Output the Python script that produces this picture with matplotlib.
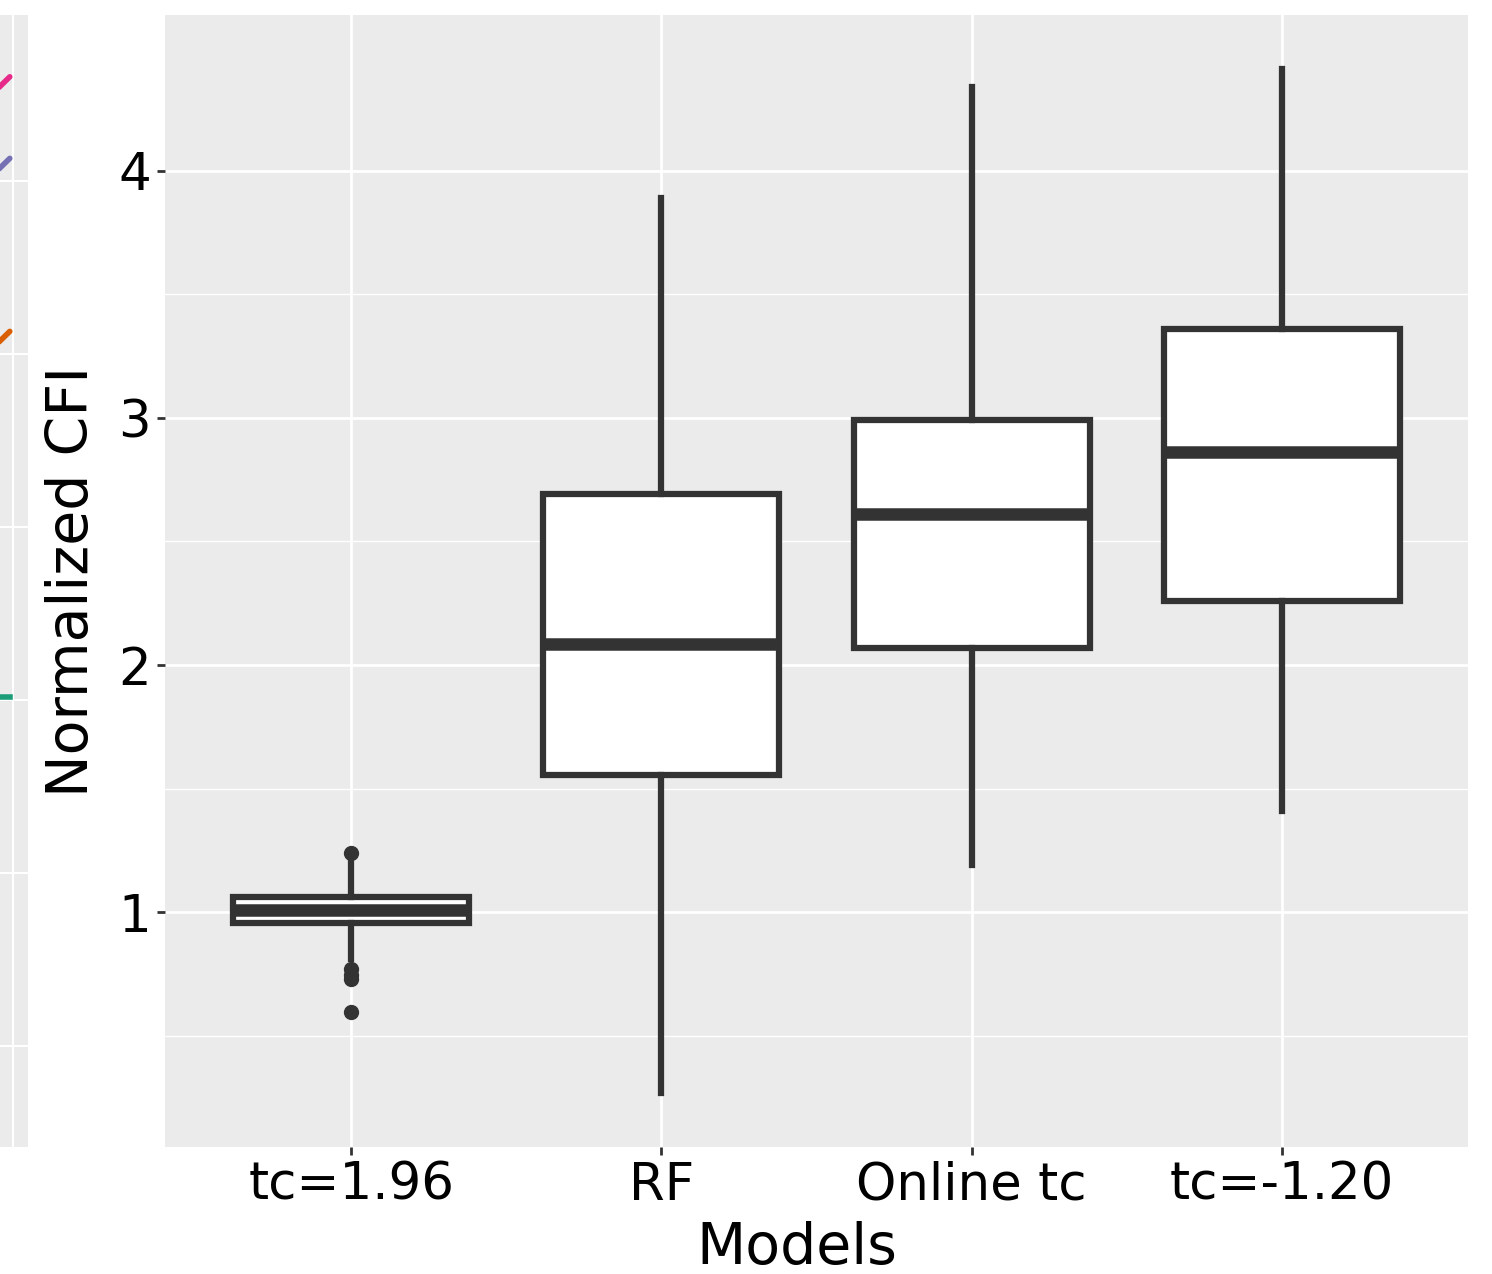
import matplotlib
matplotlib.use("Agg")
import matplotlib.pyplot as plt

# box statistics
models = ["tc=1.96", "RF", "Online tc", "tc=-1.20"]
whislo = [0.81, 0.27, 1.19, 1.41]
q1 = [0.955, 1.555, 2.07, 2.26]
med = [1.01, 2.085, 2.61, 2.86]
q3 = [1.06, 2.69, 2.99, 3.36]
whishi = [1.20, 3.89, 4.34, 4.41]
fliers = [[1.24, 0.77, 0.745, 0.73, 0.595], [], [], []]

# cropped neighbour panel on the far left (only line ends visible)
side_y = [4.38, 4.05, 3.35, 1.87]
side_colors = ["#e7298a", "#7570b3", "#d95f02", "#1b9e77"]

dark = "#333333"
panel = "#ebebeb"

fig = plt.figure(figsize=(14.92, 12.74), dpi=100)
ax = fig.add_axes([165/1492, 127/1274, 1303/1492, 1132/1274])
side = fig.add_axes([0, 127/1274, 28/1492, 1132/1274])
side.set_zorder(-1)

stats = []
for i, m in enumerate(models):
    stats.append(dict(label=m, whislo=whislo[i], q1=q1[i], med=med[i],
                      q3=q3[i], whishi=whishi[i], fliers=fliers[i]))

ax.bxp(stats, positions=range(1, 5), widths=0.76, patch_artist=True,
       showcaps=False,
       boxprops=dict(facecolor="white", edgecolor=dark, linewidth=4.5),
       medianprops=dict(color=dark, linewidth=9, solid_capstyle="butt"),
       whiskerprops=dict(color=dark, linewidth=4.5),
       flierprops=dict(marker="o", markerfacecolor=dark, markeredgecolor=dark,
                       markersize=10))

ax.set_facecolor(panel)
ax.set_xlim(0.4, 4.6)
ax.set_ylim(0.05, 4.63)
ax.set_yticks([1, 2, 3, 4])
ax.set_yticks([1.5, 2.5, 3.5, 0.5], minor=True)
ax.grid(True, which="major", color="white", linewidth=2.0)
ax.grid(True, which="minor", axis="y", color="white", linewidth=1.0)
ax.set_axisbelow(True)
for s in ax.spines.values():
    s.set_visible(False)
ax.tick_params(axis="both", which="major", labelsize=37, color=dark,
               length=6, width=2, labelcolor="black", pad=4)
ax.tick_params(axis="y", which="minor", length=0)
ax.set_xlabel("Models", fontsize=41)
ax.xaxis.set_label_coords(0.485, -0.065)
ax.xaxis.label.set_verticalalignment("top")
ax.set_ylabel("Normalized CFI", fontsize=41)
ax.yaxis.set_label_coords(-0.05, 0.5)

side.set_facecolor(panel)
side.set_xlim(0, 1)
side.set_ylim(0.05, 4.63)
side.set_xticks([0.45])
side.set_yticks([0.46, 1.16, 1.86, 2.56, 3.26, 3.96])
side.grid(True, color="white", linewidth=1.5)
side.set_axisbelow(True)
side.tick_params(length=0, labelleft=False, labelbottom=False)
for s in side.spines.values():
    s.set_visible(False)
for y, c in zip(side_y[:3], side_colors[:3]):
    side.plot([-0.1, 0.35], [y - 0.05, y], color=c, linewidth=4,
              solid_capstyle="round")
side.plot([-0.1, 0.35], [side_y[3], side_y[3]], color=side_colors[3],
          linewidth=4)

fig.savefig("out.png", dpi=100)
